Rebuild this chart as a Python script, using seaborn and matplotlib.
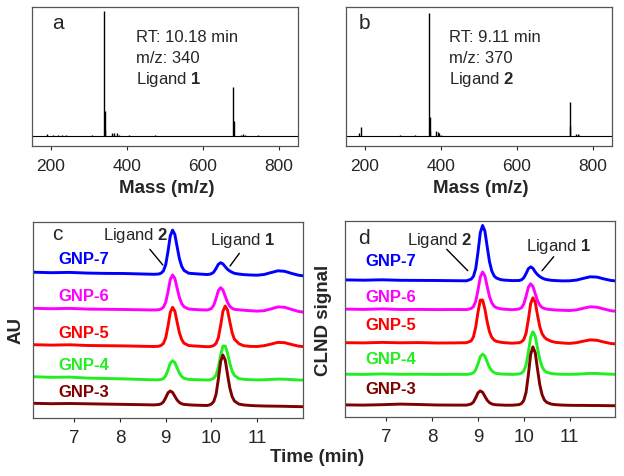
import seaborn as sns
import matplotlib.pyplot as plt

# mass spectra: m/z and intensity (main peak of a = 100)
mz_a = [190, 206, 219, 228, 239, 307, 340, 341, 342, 360, 366, 373, 380, 405, 474,
        680, 681, 699, 706, 710, 746]
int_a = [1.4, 0.6, 1.0, 0.8, 0.5, 0.8, 100, 20, 5, 2.0, 2.5, 2.5, 1.0, 0.5, 0.5,
         39, 12, 1.0, 1.5, 0.8, 0.8]
mz_b = [184, 190, 292, 333, 370, 371, 372, 388, 392, 395, 400, 739, 741, 756, 760, 765]
int_b = [2.0, 7.2, 0.5, 0.5, 98.5, 15, 4, 4.0, 3.5, 2.0, 1.0, 27.5, 8, 1.5, 1.2, 0.8]

# chromatograms
time_min = [6.1, 6.5, 6.9, 7.3, 7.7, 8.1, 8.5, 8.75, 8.85,
            8.9, 8.95, 9.0, 9.05, 9.1, 9.15, 9.2, 9.25, 9.3, 9.35, 9.4,
            9.5, 9.6, 9.75, 9.9,
            9.95, 10.0, 10.05, 10.1, 10.15, 10.2, 10.25, 10.3, 10.35, 10.4, 10.45, 10.5,
            10.6, 10.7, 10.85, 11.0, 11.15, 11.3, 11.45, 11.6, 11.75, 11.9, 12.0]
samples = ['GNP-7', 'GNP-6', 'GNP-5', 'GNP-4', 'GNP-3']

# UV (AU), panel c
au_gnp7 = [145.5, 145.0, 145.3, 144.6, 144.3, 144.2, 143.7, 143.4, 143.7,
           144.6, 146.8, 153.0, 166.3, 181.8, 187.6, 183.2, 170.8, 158.8, 151.3, 147.3,
           144.5, 144.1, 143.6, 143.2,
           143.4, 144.0, 145.6, 149.2, 153.4, 155.0, 153.8, 151.0, 148.4, 146.7, 145.4, 144.4,
           143.6, 143.1, 142.7, 142.5, 143.2, 145.1, 146.9, 146.4, 144.3, 142.5, 141.9]
au_gnp6 = [109.4, 109.0, 109.3, 108.6, 108.4, 108.2, 107.9, 107.7, 108.0,
           108.7, 110.5, 115.4, 125.9, 138.2, 142.7, 139.2, 129.4, 120.0, 114.0, 110.9,
           108.7, 108.3, 107.9, 107.7,
           108.2, 109.3, 112.5, 119.2, 127.1, 130.0, 127.8, 121.5, 115.4, 111.5, 109.4, 108.4,
           107.9, 107.5, 107.0, 106.6, 107.0, 108.8, 110.8, 110.4, 108.3, 106.3, 105.6]
au_gnp5 = [73.0, 72.6, 72.9, 72.2, 72.0, 71.8, 71.4, 71.2, 71.5,
           72.3, 74.3, 79.8, 91.6, 105.4, 110.4, 106.5, 95.4, 84.8, 78.1, 74.5,
           72.2, 71.8, 71.4, 71.0,
           71.0, 71.4, 72.2, 74.3, 80.0, 92.2, 106.4, 111.7, 107.6, 96.2, 85.2, 78.5,
           74.0, 72.0, 71.3, 71.2, 72.0, 73.6, 75.3, 75.0, 73.2, 71.6, 71.1]
au_gnp4 = [41.0, 40.4, 40.6, 39.6, 39.2, 38.8, 38.2, 37.9, 37.9,
           38.3, 39.2, 41.9, 47.7, 54.5, 57.0, 55.1, 49.7, 44.5, 41.2, 39.4,
           38.3, 38.1, 37.9, 37.7,
           37.7, 38.4, 39.5, 42.6, 50.3, 62.2, 71.7, 71.7, 64.7, 54.5, 46.8, 42.3,
           39.1, 38.4, 38.0, 37.8, 37.9, 38.3, 38.6, 38.5, 38.1, 37.7, 37.6]
au_gnp3 = [14.4, 14.0, 14.2, 13.9, 13.6, 13.3, 13.0, 12.8, 13.2,
           13.9, 15.8, 20.0, 24.9, 26.7, 25.3, 21.4, 17.6, 15.2, 13.9, 13.3,
           12.9, 12.6, 12.4, 12.2,
           12.7, 13.7, 16.2, 23.3, 38.5, 56.1, 62.7, 57.7, 43.5, 29.9, 21.3, 16.7,
           13.6, 12.8, 12.2, 11.9, 11.7, 11.6, 11.5, 11.4, 11.2, 11.1, 11.0]

# CLND signal, panel d
clnd_gnp7 = [136.8, 136.5, 136.9, 136.4, 136.3, 136.2, 136.0, 135.9, 137.6,
             140.3, 148.1, 164.7, 184.0, 191.2, 185.7, 170.2, 155.3, 145.9, 140.9, 138.7,
             137.0, 136.5, 136.1, 136.2,
             136.9, 138.9, 143.1, 148.0, 149.8, 148.4, 144.8, 142.1, 140.1, 138.7, 137.7, 137.1,
             136.4, 136.1, 135.8, 135.9, 136.6, 138.3, 139.9, 139.6, 137.8, 136.3, 135.8]
clnd_gnp6 = [107.6, 107.3, 107.8, 107.2, 107.3, 107.1, 107.2, 107.1, 108.2,
             110.1, 115.4, 126.7, 139.8, 144.7, 140.9, 130.4, 120.3, 113.9, 110.5, 109.0,
             107.8, 107.4, 107.0, 107.7,
             109.0, 112.6, 120.4, 129.5, 132.9, 130.3, 123.0, 116.0, 111.6, 109.2, 108.2, 107.6,
             107.1, 106.7, 106.4, 106.2, 106.8, 108.4, 109.9, 109.5, 107.7, 106.0, 105.5]
clnd_gnp5 = [74.0, 73.8, 74.3, 73.9, 74.1, 73.7, 73.8, 74.0, 75.8,
             79.8, 89.6, 104.7, 116.6, 116.6, 107.8, 94.9, 85.1, 79.4, 76.7, 75.4,
             74.4, 73.9, 73.5, 74.0,
             74.9, 77.1, 83.5, 97.1, 113.0, 118.9, 114.4, 101.6, 90.0, 83.0, 79.5, 77.5,
             75.4, 74.3, 73.7, 73.3, 74.0, 75.5, 76.8, 76.4, 74.7, 73.2, 72.8]
clnd_gnp4 = [42.5, 42.3, 42.8, 42.4, 42.5, 42.3, 42.4, 42.3, 42.9,
             43.9, 46.8, 52.9, 60.0, 62.6, 60.6, 54.9, 49.4, 46.0, 44.1, 43.3,
             42.7, 42.5, 42.3, 42.7,
             43.6, 45.7, 51.7, 64.5, 79.4, 84.9, 80.6, 68.7, 57.2, 50.0, 46.1, 44.4,
             43.2, 42.7, 42.4, 42.4, 42.5, 42.9, 43.3, 43.2, 42.8, 42.5, 42.4]
clnd_gnp3 = [11.8, 11.6, 12.0, 12.6, 12.2, 11.7, 11.6, 11.6, 12.7,
             14.6, 18.9, 23.9, 25.8, 24.4, 20.4, 16.5, 14.1, 12.8, 12.2, 11.9,
             11.7, 11.5, 11.5, 12.1,
             13.2, 16.2, 24.3, 41.8, 62.2, 69.8, 64.0, 47.6, 31.9, 22.0, 16.7, 14.4,
             12.6, 12.0, 11.6, 11.4, 11.3, 11.3, 11.2, 11.2, 11.1, 11.0, 11.0]

colors = ['#0000ff', '#ff00ff', '#ff0000', '#22ee22', '#800000']

sns.set_style('ticks')
plt.rcParams['font.family'] = ['Liberation Sans', 'DejaVu Sans']
plt.rcParams['mathtext.fontset'] = 'custom'
plt.rcParams['mathtext.rm'] = 'Liberation Sans'
plt.rcParams['mathtext.bf'] = 'Liberation Sans:bold'

fig = plt.figure(figsize=(6.24, 4.76), dpi=100)
W, H = 624, 476


def box(l, t, r, b):
    return [l / W, 1 - b / H, (r - l) / W, (b - t) / H]


ax_a = fig.add_axes(box(32, 7, 298, 146))
ax_b = fig.add_axes(box(345.7, 7, 611.7, 146))
ax_c = fig.add_axes(box(33, 221.7, 303, 417.7))
ax_d = fig.add_axes(box(345.3, 221, 615.3, 416.7))

# top: mass spectra
for ax, mz, inten, letter, info in [
        (ax_a, mz_a, int_a, 'a', ['RT: 10.18 min', 'm/z: 340', r'Ligand $\mathbf{1}$']),
        (ax_b, mz_b, int_b, 'b', ['RT: 9.11 min', 'm/z: 370', r'Ligand $\mathbf{2}$'])]:
    ax.axhline(0, color='k', lw=0.8)
    ax.vlines(mz, 0, inten, color='k', lw=1.0)
    ax.set_xlim(150, 850)
    ax.set_ylim(-8, 103)
    ax.set_xticks([200, 400, 600, 800])
    ax.set_yticks([])
    ax.tick_params(axis='x', direction='out', length=3, width=0.8, labelsize=12.5, pad=6.5)
    ax.text(0.075 if letter == 'a' else 0.05, 0.845, letter, transform=ax.transAxes,
            fontsize=15, va='baseline')
    for i, line in enumerate(info):
        ax.text(0.39, 0.78 - i * 0.149, line, transform=ax.transAxes,
                fontsize=12, va='center')

fig.text(167 / W, 1 - 189 / H, 'Mass (m/z)', ha='center', va='center',
         fontsize=13.5, fontweight='bold')
fig.text(481 / W, 1 - 189 / H, 'Mass (m/z)', ha='center', va='center',
         fontsize=13.5, fontweight='bold')

# bottom: chromatograms
panels = [
    (ax_c, [au_gnp7, au_gnp6, au_gnp5, au_gnp4, au_gnp3], 'c', 196.0,
     6.65, [158.7, 121.0, 83.7, 52.7, 25.4],
     (7.63, 182.7, 8.653, 168.4, 8.937, 152.7),
     (9.97, 177.0, 10.609, 164.4, 10.406, 151.7), (0.07, 0.907)),
    (ax_d, [clnd_gnp7, clnd_gnp6, clnd_gnp5, clnd_gnp4, clnd_gnp3], 'd', 195.7,
     6.54, [155.0, 119.4, 91.0, 57.4, 26.7],
     (7.45, 176.7, 8.316, 167.4, 8.776, 146.0),
     (10.05, 170.0, 10.654, 160.0, 10.399, 146.0), (0.046, 0.881)),
]
for ax, traces, letter, ytop, lx, ly, lig2, lig1, lpos in panels:
    for name, vals, col, y in zip(samples, traces, colors, ly):
        sns.lineplot(x=time_min, y=vals, ax=ax, color=col, lw=2.1)
        ax.text(lx, y, name, color=col, fontsize=12, fontweight='bold', va='center')
    for (tx, ty, x0, y0, x1, y1), num in [(lig2, '2'), (lig1, '1')]:
        ax.text(tx, ty, 'Ligand $\\mathbf{%s}$' % num, fontsize=12, va='center')
        ax.plot([x0, x1], [y0, y1], color='k', lw=1.0)
    ax.text(lpos[0], lpos[1], letter, transform=ax.transAxes, fontsize=15, va='baseline')
    ax.set_xlim(6.1, 12.0)
    ax.set_ylim(0, ytop)
    ax.set_xticks([7, 8, 9, 10, 11])
    ax.set_yticks([])
    ax.set_xlabel('')
    ax.set_ylabel('')
    ax.tick_params(axis='x', direction='out', length=3, width=0.8, labelsize=13.5, pad=6)

for ax in [ax_a, ax_b, ax_c, ax_d]:
    for sp in ax.spines.values():
        sp.set_color('#555555')
        sp.set_linewidth(0.9)

fig.text(16 / W, 1 - 331 / H, 'AU', rotation=90, ha='center', va='center',
         fontsize=13.5, fontweight='bold')
fig.text(323 / W, 1 - 320 / H, 'CLND signal', rotation=90, ha='center', va='center',
         fontsize=13.5, fontweight='bold')
fig.text(317.5 / W, 1 - 457 / H, 'Time (min)', ha='center', va='center',
         fontsize=13.5, fontweight='bold')

fig.savefig('out.png', dpi=100)
